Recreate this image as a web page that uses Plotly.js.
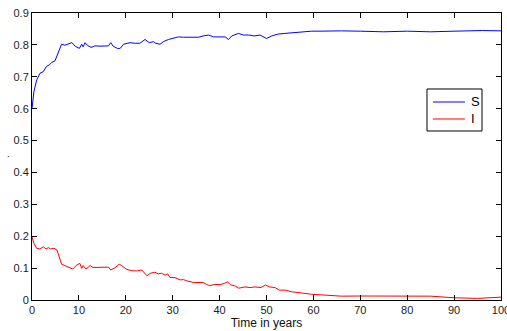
<!DOCTYPE html>
<html>
<head>
<meta charset="utf-8">
<script src="https://cdn.plot.ly/plotly-3.0.1.min.js"></script>
<style>html,body{margin:0;padding:0;background:#fff;}#chart{width:507px;height:331px;}</style>
</head>
<body>
<div id="chart"></div>
<script>
var tS = [0,0.4,1.0,1.7,2.4,3.1,3.7,4.2,4.9,5.4,5.8,6.3,7.0,7.7,8.5,9.2,10.1,10.6,10.9,11.3,11.8,12.6,13.4,14.5,15.6,16.3,16.8,17.3,18.2,18.8,19.5,20.9,22.0,23.0,24.1,25.0,25.9,26.4,27.3,28.0,29.1,30.1,31.2,32.3,33.3,34.4,35.5,36.5,37.6,38.7,40.1,41.2,41.9,42.6,44.0,45.1,46.2,47.5,48.6,50.0,51.1,52.5,53.9,55.3,56.8,58.2,59.6,61.0,63.2,66,70,75,80,85,90,93,96,100];
var S = [0.600,0.653,0.690,0.711,0.716,0.733,0.737,0.745,0.750,0.768,0.778,0.802,0.799,0.802,0.807,0.796,0.789,0.802,0.794,0.807,0.799,0.792,0.797,0.796,0.796,0.797,0.807,0.796,0.789,0.789,0.802,0.807,0.805,0.805,0.817,0.807,0.810,0.805,0.802,0.810,0.817,0.820,0.825,0.824,0.824,0.825,0.824,0.828,0.831,0.825,0.824,0.825,0.817,0.828,0.836,0.831,0.831,0.828,0.831,0.820,0.828,0.834,0.836,0.838,0.841,0.841,0.843,0.843,0.844,0.844,0.843,0.841,0.843,0.841,0.843,0.845,0.845,0.844];
var tI = [0,0.4,1.0,1.7,2.4,3.0,3.5,4.0,4.7,5.3,5.8,6.3,7.0,7.7,8.7,9.4,10.2,10.6,10.9,11.5,12.4,13.0,14.5,15.6,16.3,16.8,17.7,18.6,19.1,20.2,21.3,22.3,23.4,24.5,25.3,26.2,26.9,27.6,28.4,28.9,29.4,30.5,31.6,32.3,33.0,34.4,35.5,36.5,37.2,37.9,39.0,40.1,41.0,41.7,42.3,43.3,44.1,45.4,46.5,47.5,48.8,49.8,50.7,51.8,52.7,54.0,55.3,57.5,59.6,61.8,63.9,66.0,70,75,80,85,90,95,100];
var I = [0.198,0.178,0.162,0.160,0.167,0.160,0.164,0.160,0.162,0.157,0.136,0.112,0.108,0.104,0.097,0.108,0.115,0.099,0.108,0.097,0.108,0.102,0.103,0.103,0.103,0.094,0.101,0.112,0.108,0.096,0.092,0.091,0.094,0.076,0.084,0.087,0.082,0.084,0.078,0.082,0.071,0.070,0.063,0.064,0.060,0.055,0.055,0.055,0.049,0.045,0.049,0.048,0.052,0.057,0.048,0.044,0.037,0.041,0.039,0.041,0.039,0.047,0.041,0.039,0.031,0.031,0.026,0.021,0.018,0.016,0.014,0.012,0.0125,0.012,0.011,0.012,0.007,0.005,0.009];
var seriesNames = ['S','I'];
var seriesColors = ['#0000ff','#ff0000'];
var xTicks = [0,10,20,30,40,50,60,70,80,90,100];
var yTicks = [0,0.1,0.2,0.3,0.4,0.5,0.6,0.7,0.8,0.9];
var yTickText = ['0','0.1','0.2','0.3','0.4','0.5','0.6','0.7','0.8','0.9'];

var font = 'Liberation Sans, Arial, Helvetica, sans-serif';
var traces = [
  {x: tS, y: S, name: seriesNames[0], type: 'scatter', mode: 'lines', line: {color: seriesColors[0], width: 1}},
  {x: tI, y: I, name: seriesNames[1], type: 'scatter', mode: 'lines', line: {color: seriesColors[1], width: 1}}
];
var axisCommon = {
  showgrid: false, zeroline: false, showline: true, linecolor: '#000', linewidth: 1,
  mirror: 'ticks', ticks: 'inside', ticklen: 5, tickcolor: '#000', tickwidth: 1,
  ticklabeloverflow: 'allow',
  tickfont: {family: font, size: 11, color: '#222'}
};
// manual MATLAB-style legend (paper coordinates)
var lg = {x0: 0.8422, x1: 0.9595, y0: 0.5889, y1: 0.7352, lx0: 0.8550, lx1: 0.9232, tx: 0.9318, rows: [0.6899, 0.6307]};
var shapes = [{type: 'rect', xref: 'paper', yref: 'paper', x0: lg.x0, x1: lg.x1, y0: lg.y0, y1: lg.y1,
               line: {color: '#000', width: 1}, fillcolor: '#fff', layer: 'above'}];
var annotations = [];
seriesNames.forEach(function (nm, i) {
  shapes.push({type: 'line', xref: 'paper', yref: 'paper', x0: lg.lx0, x1: lg.lx1, y0: lg.rows[i], y1: lg.rows[i],
               line: {color: seriesColors[i], width: 1}, layer: 'above'});
  annotations.push({xref: 'paper', yref: 'paper', x: lg.tx, y: lg.rows[i], xanchor: 'left', yanchor: 'middle',
                    text: nm, showarrow: false, font: {family: font, size: 13, color: '#000'}});
});
var layout = {
  width: 507, height: 331,
  margin: {l: 32, r: 6, t: 13, b: 31, pad: 0},
  paper_bgcolor: '#fff', plot_bgcolor: '#fff',
  showlegend: false,
  shapes: shapes, annotations: annotations,
  xaxis: Object.assign({}, axisCommon, {range: [0, 100], tickmode: 'array', tickvals: xTicks,
    title: {text: 'Time in years', font: {family: font, size: 12, color: '#111'}, standoff: 2}}),
  yaxis: Object.assign({}, axisCommon, {range: [0, 0.9], tickmode: 'array', tickvals: yTicks, ticktext: yTickText,
    title: {text: '.', font: {family: font, size: 10, color: '#111'}, standoff: 4}})
};
Plotly.newPlot('chart', traces, layout, {displayModeBar: false, staticPlot: true});
</script>
</body>
</html>
